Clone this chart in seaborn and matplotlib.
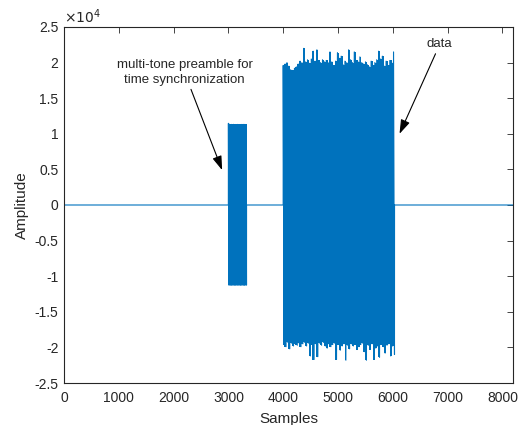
import numpy as np
import pandas as pd
import matplotlib
matplotlib.use("Agg")
import matplotlib.pyplot as plt
from matplotlib.ticker import FuncFormatter
import seaborn as sns

# signal layout (sample indices)
n_samples = 8192
pre_start, pre_end = 3000, 3330
data_start, data_end = 4000, 6030

# multi-tone preamble peaks
pre_hi = [11470, 11350, 11300, 11320, 11300, 11330, 11300, 11310, 11300, 11320,
          11300, 11310, 11300, 11320, 11300, 11330, 11300, 11310]
pre_lo = [-11250, -11240, -11260, -11250, -11240, -11250, -11260, -11240, -11250,
          -11250, -11240, -11260, -11250, -11240, -11250, -11260, -11240, -11250]

# data block upper / lower peaks
data_hi = [19600, 19800, 20000, 19500, 19000, 18900, 19200, 19400, 19800, 20200,
           20000, 22000, 20100, 20400, 19900, 20500, 21600, 20200, 21800, 20300,
           20000, 20400, 20100, 20300, 20000, 21500, 20100, 19600, 20200, 21400,
           20600, 20900, 19700, 20200, 20000, 21800, 20400, 20000, 21500, 20300,
           20100, 20800, 20000, 19800, 20100, 19700, 19400, 20200, 19600, 20000,
           20400, 21600, 20500, 20900, 19500, 20200, 19600, 20300, 20000, 21500]
data_lo = [-19600, -19900, -19300, -20200, -19400, -19800, -19500, -19700, -19400, -19900,
           -19500, -19300, -19800, -19400, -21200, -19600, -21700, -19500, -21300, -19400,
           -19700, -19300, -19800, -20100, -19500, -19900, -19600, -19400, -21700, -19600,
           -20400, -19800, -19500, -21800, -19700, -20200, -19500, -19800, -19600, -20300,
           -19900, -19600, -19400, -20600, -21800, -19700, -20300, -19500, -21700, -20100,
           -19800, -21400, -19600, -19900, -20800, -19700, -19500, -21200, -19800, -21000]

y_ticks = [-25000, -20000, -15000, -10000, -5000, 0, 5000, 10000, 15000, 20000, 25000]
x_ticks = [0, 1000, 2000, 3000, 4000, 5000, 6000, 7000, 8000]

blue = "#0072BD"
dark = "#262626"


def zigzag(start, end, hi, lo):
    vals = np.ravel(np.column_stack([hi, lo]))
    pos = np.linspace(start, end, len(vals))
    return pos, vals


pre_x, pre_y = zigzag(pre_start, pre_end, pre_hi, pre_lo)
dat_x, dat_y = zigzag(data_start, data_end, data_hi, data_lo)

x = np.concatenate([[0, pre_start - 1], pre_x, [pre_end + 1, data_start - 1],
                    dat_x, [data_end + 1, n_samples]])
y = np.concatenate([[0, 0], pre_y, [0, 0], dat_y, [0, 0]])
df = pd.DataFrame({"Samples": x, "Amplitude": y})

sns.set_style("white")
plt.rcParams["font.family"] = ["Liberation Sans", "DejaVu Sans"]

fig = plt.figure(figsize=(5.25, 4.25), dpi=100)
ax = fig.add_axes([0.1219, 0.0988, 0.8552, 0.8377])

# dense oscillation: fill between the peak envelopes, then the trace itself
for start, end, hi, lo in [(pre_start, pre_end, pre_hi, pre_lo),
                           (data_start, data_end, data_hi, data_lo)]:
    pos = np.linspace(start, end, len(hi))
    ax.fill_between(pos, hi, lo, step="mid", color=blue, linewidth=0)

sns.lineplot(data=df, x="Samples", y="Amplitude", sort=False, estimator=None,
             color=blue, linewidth=0.8, ax=ax)

ax.set_xlim(0, n_samples)
ax.set_ylim(-25000, 25000)
ax.set_xticks(x_ticks)
ax.set_yticks(y_ticks)
ax.yaxis.set_major_formatter(FuncFormatter(lambda v, p: f"{v / 1e4:g}"))
ax.tick_params(direction="in", length=4, width=0.6, top=True, right=True,
               labelsize=10, colors=dark, pad=4)
ax.tick_params(axis="x", pad=6)
for s in ax.spines.values():
    s.set_color(dark)
    s.set_linewidth(0.8)

ax.set_xlabel("Samples", fontsize=11, color=dark, labelpad=5)
ax.set_ylabel("Amplitude", fontsize=11, color=dark, labelpad=4)
ax.text(0.0, 1.004, r"$\times10^{4}$", transform=ax.transAxes, ha="left", va="bottom",
        fontsize=10, color=dark)

arrow = dict(arrowstyle="-|>,head_length=0.9,head_width=0.3", color="k", lw=0.8,
             shrinkA=0, shrinkB=0)
ax.annotate("multi-tone preamble for\ntime synchronization", xy=(2885, 4900),
            xytext=(2200, 16700), ha="center", va="bottom", fontsize=9.5,
            arrowprops=arrow, linespacing=1.3)
ax.annotate("data", xy=(6122, 10000), xytext=(6855, 21700), ha="center",
            va="bottom", fontsize=9.5, arrowprops=arrow)

fig.savefig("out.png", dpi=100)
